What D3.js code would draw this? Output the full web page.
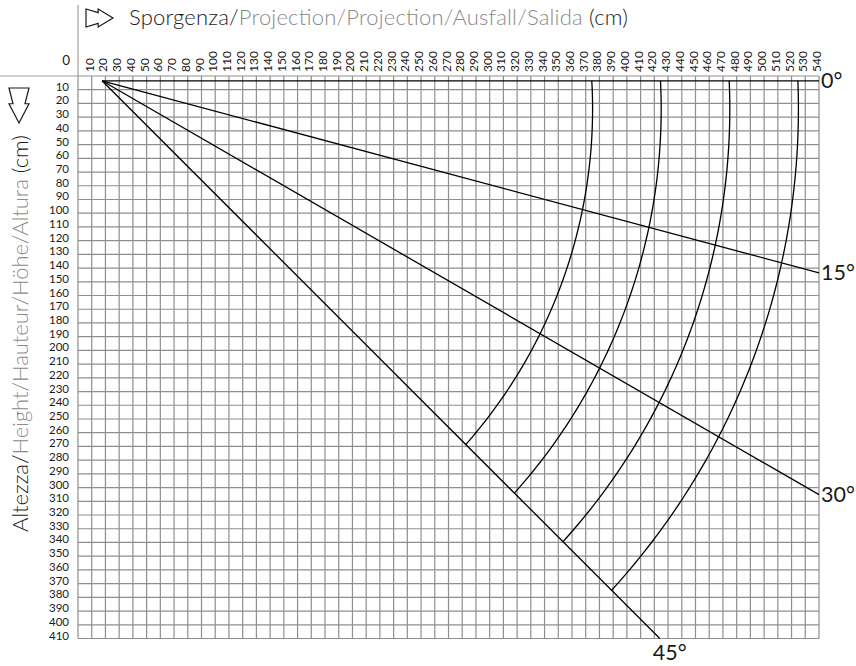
<!DOCTYPE html>
<html><head><meta charset="utf-8">
<script src="https://cdn.jsdelivr.net/npm/d3@7"></script>
<style>body{margin:0;background:#fff}svg{display:block}</style>
</head><body><svg id="c" width="856" height="666"></svg>
<script>
// ---- data (cm) ----
const xTicks = d3.range(10, 550, 10);      // projection tick labels
const yTicks = d3.range(10, 420, 10);      // height tick labels
const angles = [0, 15, 30, 45];            // awning inclination (deg)
const armLengths = [370, 420, 470, 520];   // arm sweep radii (cm)
const rollerPos = [17.5, 3.5];             // start of inclination lines (cm)
const armPivot = [5, 24];                  // arm shoulder pivot (cm)
const xMax = 540, yMax = 410;
const titleXParts = ["Sporgenza/", "Projection/Projection/Ausfall/Salida", " (cm)"];
const titleYParts = ["Altezza/", "Height/Hauteur/Höhe/Altura", " (cm)"];
const partColors = ["#1a1a1a", "#8a8a8a", "#1a1a1a"];

const FONT = "Lato, 'Open Sans', sans-serif";
const svg = d3.select("#c");
const x = d3.scaleLinear().domain([0, xMax]).range([78, 819]);
const y = d3.scaleLinear().domain([0, yMax]).range([76, 638.5]);
const gridColor = "#8f8f8f";

// grid
const g = svg.append("g");
g.selectAll("line.v").data(d3.range(0, xMax + 1, 10)).join("line")
  .attr("x1", d => x(d)).attr("x2", d => x(d)).attr("y1", y(0)).attr("y2", y(yMax))
  .attr("stroke", gridColor).attr("stroke-width", 1.2);
g.selectAll("line.h").data(d3.range(0, yMax + 1, 10)).join("line")
  .attr("x1", x(0)).attr("x2", x(xMax)).attr("y1", d => y(d)).attr("y2", d => y(d))
  .attr("stroke", gridColor).attr("stroke-width", 1.2);
// axis extension lines
svg.append("line").attr("x1", x(0)).attr("x2", x(0)).attr("y1", 5).attr("y2", y(0))
  .attr("stroke", "#a0a0a0").attr("stroke-width", 1.2);
svg.append("line").attr("x1", 0).attr("x2", x(0)).attr("y1", y(0)).attr("y2", y(0))
  .attr("stroke", "#a0a0a0").attr("stroke-width", 1.2);

// tick labels
svg.append("g").selectAll("text").data(xTicks).join("text")
  .attr("transform", d => `translate(${x(d) + 2},72) rotate(-90)`)
  .attr("font-family", FONT).attr("font-size", 12).attr("fill", "#1a1a1a")
  .text(d => d);
svg.append("g").selectAll("text").data(yTicks).join("text")
  .attr("x", 69).attr("y", d => y(d) + 1).attr("text-anchor", "end")
  .attr("font-family", FONT).attr("font-size", 11.5).attr("fill", "#1a1a1a")
  .text(d => d);
svg.append("text").attr("x", 70).attr("y", 65).attr("text-anchor", "end")
  .attr("font-family", FONT).attr("font-size", 13.5).attr("fill", "#1a1a1a").text("0");

// inclination lines
const O = rollerPos, C = armPivot;
function rayEnd(th) {
  const r = th * Math.PI / 180, c = Math.cos(r), s = Math.sin(r);
  let t = (xMax - O[0]) / c;
  if (s > 0) t = Math.min(t, (yMax - O[1]) / s);
  return [O[0] + t * c, O[1] + t * s];
}
function rayCircle(th, R) {
  const r = th * Math.PI / 180, d = [Math.cos(r), Math.sin(r)];
  const oc = [O[0] - C[0], O[1] - C[1]];
  const b = d[0] * oc[0] + d[1] * oc[1];
  const cc = oc[0] * oc[0] + oc[1] * oc[1] - R * R;
  const t = -b + Math.sqrt(b * b - cc);
  return [O[0] + t * d[0], O[1] + t * d[1]];
}
const lines = svg.append("g");
angles.forEach(a => {
  const e = rayEnd(a);
  lines.append("line").attr("x1", x(O[0])).attr("y1", y(O[1]))
    .attr("x2", x(e[0])).attr("y2", y(e[1]))
    .attr("stroke", "#000").attr("stroke-width", 1.3);
  const lab = svg.append("text").attr("font-family", FONT).attr("font-size", 21.5)
    .attr("fill", "#1a1a1a").text(a + "°");
  if (a === 45) lab.attr("x", x(e[0]) - 7).attr("y", 660);
  else lab.attr("x", 821).attr("y", y(e[1]) + 7);
});

// arm sweep arcs
const lineGen = d3.line().x(d => x(d[0])).y(d => y(d[1]));
armLengths.forEach(R => {
  const p0 = rayCircle(angles[0], R), p1 = rayCircle(angles[angles.length - 1], R);
  const f0 = Math.atan2(p0[1] - C[1], p0[0] - C[0]);
  const f1 = Math.atan2(p1[1] - C[1], p1[0] - C[0]);
  const pts = d3.range(0, 1.0001, 1 / 80).map(k => {
    const f = f0 + (f1 - f0) * k;
    return [C[0] + R * Math.cos(f), C[1] + R * Math.sin(f)];
  });
  lines.append("path").attr("d", lineGen(pts)).attr("fill", "none")
    .attr("stroke", "#000").attr("stroke-width", 1.3);
});

// titles
function arrowPts(L, W) {
  return [[0, 0], [0.45 * L, 0.2 * W], [0.45 * L, 0], [L, 0.5 * W], [0.45 * L, W], [0.45 * L, 0.8 * W], [0, W]];
}
svg.append("polygon")
  .attr("points", arrowPts(27, 18).map(p => [86 + p[0], 9 + p[1]].join(",")).join(" "))
  .attr("fill", "none").attr("stroke", "#1a1a1a").attr("stroke-width", 1.2);
svg.append("polygon")
  .attr("points", arrowPts(35, 20).map(p => [9 + p[1], 88 + p[0]].join(",")).join(" "))
  .attr("fill", "none").attr("stroke", "#1a1a1a").attr("stroke-width", 1.2);

const tx = svg.append("text").attr("x", 129).attr("y", 25)
  .attr("font-family", FONT).attr("font-size", 22).attr("font-weight", 300);
titleXParts.forEach((t, i) => tx.append("tspan").attr("fill", partColors[i]).text(t));
tx.attr("textLength", 499).attr("lengthAdjust", "spacing");

const ty = svg.append("text").attr("transform", "translate(28,532) rotate(-90)")
  .attr("font-family", FONT).attr("font-size", 22).attr("font-weight", 300);
titleYParts.forEach((t, i) => ty.append("tspan").attr("fill", partColors[i]).text(t));
ty.attr("textLength", 397).attr("lengthAdjust", "spacing");
</script>
</body></html>
